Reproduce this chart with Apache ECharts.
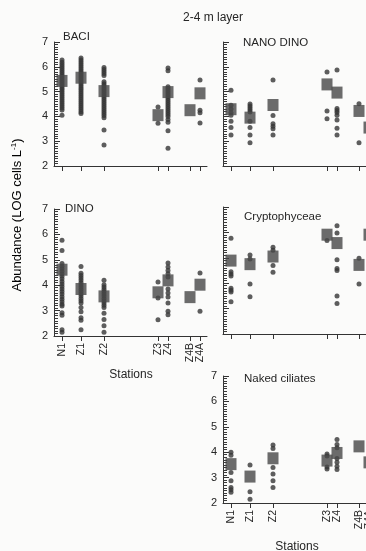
<!DOCTYPE html>
<html>
<head>
<meta charset="utf-8">
<script src="https://cdn.jsdelivr.net/npm/echarts@6/dist/echarts.min.js"></script>
<style>
html, body { margin: 0; padding: 0; background: #fbfbfa; }
#chart { width: 366px; height: 551px; }
</style>
</head>
<body>
<div id="chart"></div>
<script>
// stations and their position along the transect (x axis units)
const stations = ['N1', 'Z1', 'Z2', 'Z3', 'Z4', 'Z4B', 'Z4A']
const stationPos = [8, 27, 50, 104, 114, 136, 146]

// BACI
const baciMeans = [5.43, 5.56, 5.02, 4.05, 4.98, 4.25, 4.93]
const baciSamples = [
    [6.27, 6.18, 6.1, 6.02, 5.94, 5.86, 5.78, 5.7, 5.62, 5.54, 5.46, 5.38, 5.3, 5.22, 5.14, 5.06, 4.98, 4.9, 4.82, 4.74, 4.66, 4.58, 4.5, 4.42, 4.34, 4.26, 4.05],
    [6.35, 6.27, 6.19, 6.11, 6.03, 5.95, 5.87, 5.79, 5.71, 5.63, 5.55, 5.47, 5.39, 5.31, 5.23, 5.15, 5.07, 4.99, 4.91, 4.83, 4.75, 4.67, 4.59, 4.51, 4.43, 4.35, 4.27, 4.19, 4.12],
    [5.97, 5.89, 5.81, 5.73, 5.65, 5.4, 5.32, 5.24, 5.16, 5.08, 5.0, 4.92, 4.84, 4.76, 4.68, 4.6, 4.52, 4.44, 4.36, 4.28, 4.2, 4.12, 4.04, 3.95, 3.45, 2.85],
    [4.38, 3.72],
    [5.95, 5.84, 5.2, 5.12, 5.04, 4.96, 4.88, 4.8, 4.72, 4.64, 4.56, 4.48, 4.4, 4.32, 4.24, 4.16, 4.08, 4.0, 3.88, 3.76, 3.42, 2.72],
    [],
    [5.47, 4.25, 4.15, 3.73]
]

// NANO DINO
const nanoMeans = [4.29, 3.95, 4.46, 5.29, 4.96, 4.22, 3.55]
const nanoSamples = [
    [5.05, 4.45, 4.3, 4.15, 4.05, 3.8, 3.55, 3.25],
    [4.5, 4.42, 4.34, 4.26, 4.18, 3.8, 3.55, 3.25, 2.94],
    [5.47, 4.04, 3.7, 3.6, 3.5, 3.25],
    [5.79, 4.22, 3.91],
    [5.87, 4.32, 4.24, 4.16, 4.05, 3.85, 3.52, 3.25],
    [4.51, 2.94],
    []
]

// DINO
const dinoMeans = [4.61, 3.85, 3.56, 3.72, 4.19, 3.53, 4.02]
const dinoSamples = [
    [5.77, 5.37, 4.85, 4.75, 4.65, 4.55, 4.45, 4.35, 4.25, 4.15, 4.05, 3.95, 3.85, 3.75, 3.65, 3.55, 3.45, 3.35, 3.25, 3.18, 2.92, 2.82, 2.25, 2.15],
    [4.74, 4.47, 4.38, 4.29, 4.2, 4.11, 4.02, 3.93, 3.84, 3.75, 3.66, 3.57, 3.48, 3.39, 3.3, 3.12, 2.95, 2.72, 2.62, 2.25],
    [4.19, 4.02, 3.93, 3.84, 3.75, 3.66, 3.57, 3.48, 3.39, 3.3, 3.21, 3.12, 2.9, 2.65, 2.4, 2.15],
    [4.13, 3.5, 2.64],
    [4.87, 4.72, 4.58, 4.45, 4.32, 3.85, 3.69, 3.54, 3.3, 2.97, 2.84],
    [],
    [4.48, 2.97]
]

// Cryptophyceae
const cryptoMeans = [4.89, 4.75, 5.05, 5.91, 5.58, 4.72, 5.91]
const cryptoSamples = [
    [5.77, 4.45, 4.36, 4.28, 3.8, 3.72, 3.65, 3.27],
    [5.11, 4.95, 3.97, 3.47],
    [5.42, 5.3, 4.7, 4.43],
    [5.68],
    [6.26, 5.98, 4.92, 4.58, 4.5, 3.5, 3.2],
    [4.98, 3.97],
    []
]

// Naked ciliates
const ciliMeans = [3.53, 3.04, 3.76, 3.67, 3.97, 4.23, 3.6]
const ciliSamples = [
    [4.0, 3.88, 3.2, 2.88, 2.61, 2.52, 2.42],
    [3.5, 2.44, 2.15],
    [4.28, 4.15, 3.4, 3.14, 2.88, 2.61],
    [3.93, 3.85, 3.42, 3.34],
    [4.5, 4.3, 4.18, 3.75, 3.6, 3.45, 3.32],
    [],
    []
]

const FONT = 'Liberation Sans, Arial, sans-serif'
const INK = '#262626'
const X_MAX = 153

// panel layout
const panels = [
    { left: 54, top: 42, height: 124, yLab: true, xLab: false, name: 'BACI', means: baciMeans, samples: baciSamples, tx: 63, ty: 31 },
    { left: 223, top: 42, height: 124, yLab: false, xLab: false, name: 'NANO DINO', means: nanoMeans, samples: nanoSamples, tx: 243, ty: 37 },
    { left: 54, top: 209, height: 127, yLab: true, xLab: true, name: 'DINO', means: dinoMeans, samples: dinoSamples, tx: 65, ty: 203 },
    { left: 223, top: 207, height: 127, yLab: false, xLab: false, name: 'Cryptophyceae', means: cryptoMeans, samples: cryptoSamples, tx: 244, ty: 211 },
    { left: 223, top: 376, height: 127, yLab: true, xLab: true, name: 'Naked ciliates', means: ciliMeans, samples: ciliSamples, tx: 244, ty: 373 }
]

const myChart = echarts.init(document.getElementById('chart'), null, { renderer: 'canvas' })

let grids = [], xAxes = [], yAxes = [], series = []
let graphics = [
    { type: 'text', x: 213, y: 18, style: { text: '2-4 m layer', font: '12px ' + FONT, fill: INK, textAlign: 'center', textVerticalAlign: 'middle' } },
    {
        type: 'text', x: 17, y: 215, rotation: Math.PI / 2,
        style: {
            text: '{a|Abundance (LOG cells L}{s|-1}{a|)}',
            textAlign: 'center', textVerticalAlign: 'middle',
            rich: {
                a: { fontSize: 13, fontFamily: FONT, color: INK },
                s: { fontSize: 8, fontFamily: FONT, color: INK, verticalAlign: 'top', padding: [0, 0, 7, 0] }
            }
        }
    },
    { type: 'text', x: 131, y: 375, style: { text: 'Stations', font: '12px ' + FONT, fill: INK, textAlign: 'center', textVerticalAlign: 'middle' } },
    { type: 'text', x: 297, y: 547, style: { text: 'Stations', font: '12px ' + FONT, fill: INK, textAlign: 'center', textVerticalAlign: 'middle' } }
]

panels.forEach((p, k) => {
    grids.push({ left: p.left, top: p.top, width: 153, height: p.height, outerBoundsMode: 'none', containLabel: false })
    xAxes.push({
        gridIndex: k, type: 'value', min: 0, max: X_MAX,
        axisLine: { lineStyle: { color: '#333', width: 1 } },
        splitLine: { show: false },
        axisTick: { customValues: stationPos, length: 5, lineStyle: { color: '#333' } },
        axisLabel: {
            // trailing blank label at the axis end, so the min/max overlap check drops it and not Z4B
            show: p.xLab, customValues: stationPos.concat([X_MAX]), rotate: 90, margin: 7,
            hideOverlap: false, showMaxLabel: false,
            fontSize: 10.5, fontFamily: FONT, color: INK,
            formatter: v => { let i = stationPos.indexOf(v); return i < 0 ? '' : stations[i] }
        }
    })
    yAxes.push({
        gridIndex: k, type: 'value', min: 2, max: 7, interval: 1,
        axisLine: { show: true, lineStyle: { color: '#333', width: 1 } },
        splitLine: { show: false },
        axisTick: { inside: true, length: 6, lineStyle: { color: '#333' } },
        minorTick: { show: true, splitNumber: 10, length: 4, lineStyle: { color: '#3a3a3a', width: 1 } },
        axisLabel: { show: p.yLab, fontSize: 11, fontFamily: FONT, color: INK, margin: 6 }
    })
    let pts = []
    p.samples.forEach((vals, i) => vals.forEach(v => pts.push([stationPos[i], v])))
    series.push({
        type: 'scatter', xAxisIndex: k, yAxisIndex: k, data: pts,
        symbol: 'circle', symbolSize: 5, silent: true,
        itemStyle: { color: '#363636' }, z: 2
    })
    series.push({
        type: 'scatter', xAxisIndex: k, yAxisIndex: k,
        data: p.means.map((v, i) => [stationPos[i], v]),
        symbol: 'rect', symbolSize: [11, 12], silent: true,
        itemStyle: { color: '#474747' }, z: 3
    })
    graphics.push({ type: 'text', x: p.tx, y: p.ty, style: { text: p.name, font: '11.5px ' + FONT, fill: INK, textVerticalAlign: 'top' } })
})

myChart.setOption({
    animation: false,
    backgroundColor: '#fbfbfa',
    grid: grids,
    xAxis: xAxes,
    yAxis: yAxes,
    series: series,
    graphic: graphics
})
</script>
</body>
</html>
